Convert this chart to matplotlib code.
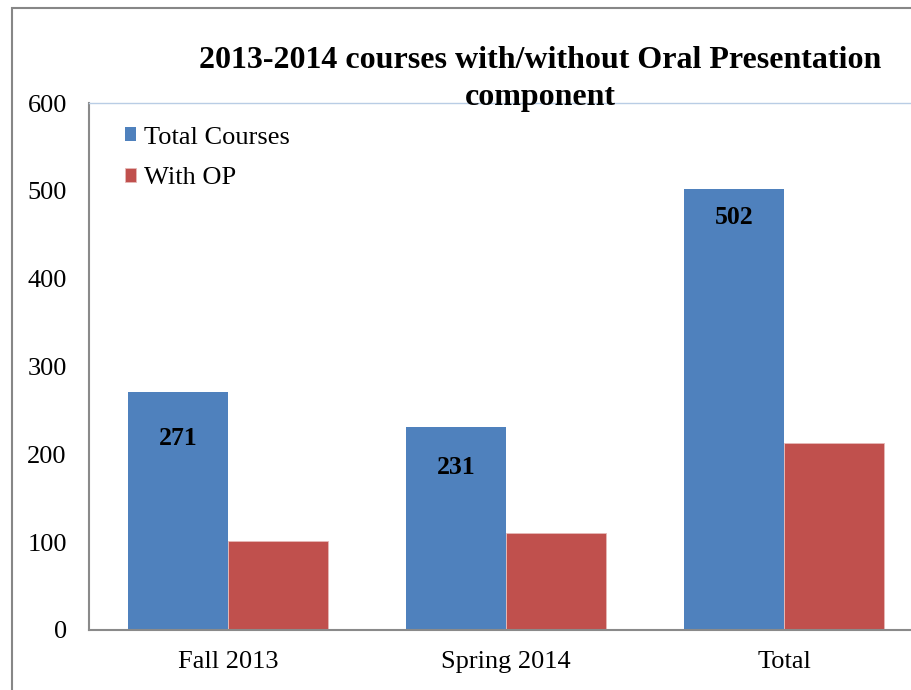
import matplotlib
matplotlib.use("Agg")
import matplotlib.pyplot as plt
from matplotlib.patches import Rectangle
import numpy as np

categories = ["Fall 2013", "Spring 2014", "Total"]
total_courses = [271, 231, 502]
with_op = [101, 111, 213]
series_names = ["Total Courses", "With OP"]
yticks = [0, 100, 200, 300, 400, 500, 600]

plt.rcParams['font.family'] = ['Liberation Serif', 'DejaVu Serif']

W, H = 911, 690
fig = plt.figure(figsize=(W / 100, H / 100), dpi=100)

# outer chart border
fig.add_artist(Rectangle((12 / W, -0.1), 1.2, 1 - 8 / H + 0.1, transform=fig.transFigure,
                         fill=False, edgecolor="#878787", linewidth=1.5))

ax_l, ax_r = 89 / W, 923 / W
ax_b, ax_t = 1 - 630 / H, 1 - 103 / H
ax = fig.add_axes([ax_l, ax_b, ax_r - ax_l, ax_t - ax_b])

x = np.arange(len(categories))
w = 0.36
blue = "#4f81bd"
red = "#c0504d"
ax.bar(x - w / 2, total_courses, w, color=blue, label=series_names[0])
ax.bar(x + w / 2, with_op, w, color=red, edgecolor="#e6b9b8", linewidth=0.6, label=series_names[1])

ax.set_xlim(-0.5, 2.5)
ax.set_ylim(0, 600)
ax.set_yticks(yticks)
ax.set_xticks(x)
ax.set_xticklabels(categories)
ax.tick_params(axis="both", length=0, labelsize=19)
ax.tick_params(axis="x", pad=15)
ax.tick_params(axis="y", pad=16)

ax.spines["right"].set_visible(False)
ax.spines["top"].set_color("#b9cde5")
ax.spines["top"].set_linewidth(1.0)
ax.spines["left"].set_color("#8a8a8a")
ax.spines["left"].set_linewidth(1.5)
ax.spines["bottom"].set_color("#8a8a8a")
ax.spines["bottom"].set_linewidth(1.5)

# data labels inside blue bars
label_offsets = [-47, -40, -28]
for xi, v, off in zip(x, total_courses, label_offsets):
    ax.annotate(str(v), (xi - w / 2, v), xytext=(0, off * 0.72), textcoords="offset points",
                ha="center", va="center", fontsize=18.5, fontweight="bold")

cx = 540 / W
fig.text(cx, 1 - 61 / H, "2013-2014 courses with/without Oral Presentation",
         ha="center", va="center", fontsize=23, fontweight="bold")
fig.text(cx, 1 - 97 / H, "component",
         ha="center", va="center", fontsize=23, fontweight="bold")

ax.legend(loc="upper left", bbox_to_anchor=(0.03, 0.975), frameon=False, fontsize=19,
          handlelength=0.45, handleheight=0.45, handletextpad=0.3, labelspacing=0.7,
          borderaxespad=0)

fig.savefig("out.png", dpi=100)
